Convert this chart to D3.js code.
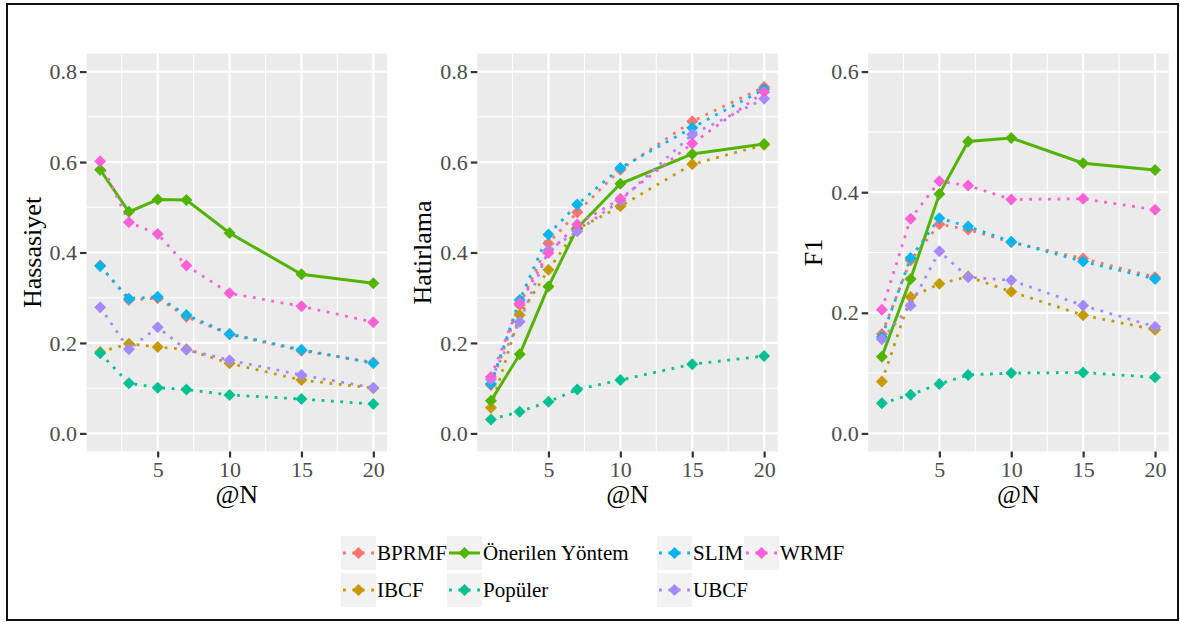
<!DOCTYPE html>
<html>
<head>
<meta charset="utf-8">
<script src="https://cdn.jsdelivr.net/npm/d3@7"></script>
<style>
  body { margin: 0; background: #ffffff; }
  svg text { font-family: "Liberation Serif", "Times New Roman", serif; }
</style>
</head>
<body>
<svg id="chart" width="1180" height="622"></svg>
<script>
// x values (@N)
var n_values = [1, 3, 5, 7, 10, 15, 20];
var x_ticks = [5, 10, 15, 20];

var methods = ["BPRMF", "IBCF", "Önerilen Yöntem", "Popüler", "SLIM", "UBCF", "WRMF"];
var method_colors = ["#F8766D", "#C49A00", "#53B400", "#00C094", "#00B6EB", "#A58AFF", "#FB61D7"];

// One row per method, same order as `methods`.
var hassasiyet = [
  [0.371, 0.295, 0.299, 0.258, 0.219, 0.183, 0.157],
  [0.180, 0.198, 0.191, 0.186, 0.155, 0.118, 0.100],
  [0.583, 0.490, 0.517, 0.516, 0.443, 0.352, 0.332],
  [0.177, 0.111, 0.101, 0.097, 0.085, 0.076, 0.065],
  [0.370, 0.298, 0.302, 0.262, 0.220, 0.185, 0.155],
  [0.279, 0.186, 0.235, 0.185, 0.162, 0.129, 0.101],
  [0.602, 0.467, 0.441, 0.371, 0.310, 0.281, 0.246]
];

var hatirlama = [
  [0.107, 0.284, 0.420, 0.489, 0.583, 0.690, 0.766],
  [0.057, 0.262, 0.362, 0.452, 0.502, 0.595, 0.638],
  [0.072, 0.175, 0.325, 0.454, 0.552, 0.618, 0.640],
  [0.031, 0.048, 0.070, 0.097, 0.118, 0.153, 0.171],
  [0.110, 0.295, 0.440, 0.506, 0.587, 0.676, 0.761],
  [0.120, 0.247, 0.405, 0.447, 0.515, 0.661, 0.740],
  [0.125, 0.288, 0.399, 0.462, 0.519, 0.641, 0.755]
];

var f1 = [
  [0.165, 0.287, 0.347, 0.338, 0.317, 0.290, 0.259],
  [0.086, 0.226, 0.248, 0.260, 0.235, 0.196, 0.172],
  [0.127, 0.256, 0.397, 0.484, 0.490, 0.448, 0.437],
  [0.050, 0.064, 0.082, 0.097, 0.100, 0.101, 0.093],
  [0.160, 0.291, 0.357, 0.343, 0.318, 0.285, 0.256],
  [0.156, 0.212, 0.302, 0.259, 0.254, 0.212, 0.177],
  [0.205, 0.356, 0.418, 0.411, 0.388, 0.389, 0.371]
];

var panels = [
  { title: "Hassasiyet", data: hassasiyet, y_max: 0.8, y_ticks: [0, 0.2, 0.4, 0.6, 0.8], left: 86.5 },
  { title: "Hatirlama",  data: hatirlama,  y_max: 0.8, y_ticks: [0, 0.2, 0.4, 0.6, 0.8], left: 477.3 },
  { title: "F1",         data: f1,         y_max: 0.6, y_ticks: [0, 0.2, 0.4, 0.6],      left: 868.2 }
];

var PANEL_W = 300.5;
var PANEL_TOP = 53.5;
var PANEL_BOTTOM = 451.5;
var SOLID_METHOD = "Önerilen Yöntem";

var svg = d3.select("#chart");

// outer frame
svg.append("rect")
  .attr("x", 7).attr("y", 4)
  .attr("width", 1171).attr("height", 616)
  .attr("fill", "none")
  .attr("stroke", "#111")
  .attr("stroke-width", 2);

function diamond_path(r) {
  return "M0," + (-r) + "L" + r + ",0L0," + r + "L" + (-r) + ",0Z";
}

function method_dash(name) {
  return name === SOLID_METHOD ? null : "2.8,6.6";
}

function draw_panel(p) {
  var x = d3.scaleLinear()
    .domain([0.05, 20.95])
    .range([p.left, p.left + PANEL_W]);

  var pad = p.y_max * 0.05;
  var y = d3.scaleLinear()
    .domain([-pad, p.y_max + pad])
    .range([PANEL_BOTTOM, PANEL_TOP]);

  var g = svg.append("g");

  g.append("rect")
    .attr("x", x.range()[0]).attr("y", PANEL_TOP)
    .attr("width", PANEL_W).attr("height", PANEL_BOTTOM - PANEL_TOP)
    .attr("fill", "#EBEBEB");

  // minor grid
  var y_minor = d3.range(p.y_ticks.length - 1).map(function (i) {
    return (p.y_ticks[i] + p.y_ticks[i + 1]) / 2;
  });
  var x_minor = [2.5, 7.5, 12.5, 17.5];

  g.selectAll(".ymin").data(y_minor).enter().append("line")
    .attr("x1", x.range()[0]).attr("x2", x.range()[1])
    .attr("y1", y).attr("y2", y)
    .attr("stroke", "#fff").attr("stroke-width", 1.1);

  g.selectAll(".xmin").data(x_minor).enter().append("line")
    .attr("y1", PANEL_TOP).attr("y2", PANEL_BOTTOM)
    .attr("x1", x).attr("x2", x)
    .attr("stroke", "#fff").attr("stroke-width", 1.1);

  // major grid
  g.selectAll(".ymaj").data(p.y_ticks).enter().append("line")
    .attr("x1", x.range()[0]).attr("x2", x.range()[1])
    .attr("y1", y).attr("y2", y)
    .attr("stroke", "#fff").attr("stroke-width", 2.2);

  g.selectAll(".xmaj").data(x_ticks).enter().append("line")
    .attr("y1", PANEL_TOP).attr("y2", PANEL_BOTTOM)
    .attr("x1", x).attr("x2", x)
    .attr("stroke", "#fff").attr("stroke-width", 2.2);

  // axes
  var y_axis = d3.axisLeft(y)
    .tickValues(p.y_ticks)
    .tickFormat(d3.format(".1f"))
    .tickSize(6.5)
    .tickPadding(3);

  var x_axis = d3.axisBottom(x)
    .tickValues(x_ticks)
    .tickSize(6)
    .tickPadding(4);

  var ya = g.append("g")
    .attr("transform", "translate(" + x.range()[0] + ",0)")
    .call(y_axis);

  var xa = g.append("g")
    .attr("transform", "translate(0," + PANEL_BOTTOM + ")")
    .call(x_axis);

  [ya, xa].forEach(function (ax) {
    ax.select(".domain").remove();
    ax.selectAll(".tick line").attr("stroke", "#333").attr("stroke-width", 2.2);
    ax.selectAll(".tick text")
      .attr("fill", "#4D4D4D")
      .style("font-size", "22px")
      .style("font-family", "'Liberation Serif', serif");
  });

  // titles
  g.append("text")
    .attr("transform", "translate(" + (x.range()[0] - 55) + "," + ((PANEL_TOP + PANEL_BOTTOM) / 2) + ") rotate(-90)")
    .attr("text-anchor", "middle")
    .attr("dy", "0.35em")
    .style("font-size", "26px")
    .attr("fill", "#000")
    .text(p.title);

  g.append("text")
    .attr("x", (x.range()[0] + x.range()[1]) / 2)
    .attr("y", 503)
    .attr("text-anchor", "middle")
    .style("font-size", "26px")
    .attr("fill", "#000")
    .text("@N");

  var line = d3.line()
    .x(function (d, i) { return x(n_values[i]); })
    .y(function (d) { return y(d); });

  // all lines first, then the points on top (like ggplot layers)
  p.data.forEach(function (vals, m) {
    g.append("path")
      .datum(vals)
      .attr("d", line)
      .attr("fill", "none")
      .attr("stroke", method_colors[m])
      .attr("stroke-width", methods[m] === SOLID_METHOD ? 3 : 2.8)
      .attr("stroke-dasharray", method_dash(methods[m]));
  });

  p.data.forEach(function (vals, m) {
    g.selectAll(null).data(vals).enter().append("path")
      .attr("d", diamond_path(6))
      .attr("transform", function (d, i) {
        return "translate(" + x(n_values[i]) + "," + y(d) + ")";
      })
      .attr("fill", method_colors[m]);
  });
}

panels.forEach(draw_panel);

// Legend: 2 rows, filled column by column.
var legend_cols = [341, 447, 657, 744];
var legend_rows = [536, 573];
var KEY_W = 35;
var KEY_H = 34;

methods.forEach(function (name, i) {
  var kx = legend_cols[Math.floor(i / 2)];
  var ky = legend_rows[i % 2];
  var lg = svg.append("g").attr("transform", "translate(" + kx + "," + ky + ")");

  lg.append("rect")
    .attr("width", KEY_W).attr("height", KEY_H)
    .attr("fill", "#F2F2F2");

  lg.append("line")
    .attr("x1", 2).attr("x2", KEY_W - 2)
    .attr("y1", KEY_H / 2).attr("y2", KEY_H / 2)
    .attr("stroke", method_colors[i])
    .attr("stroke-width", name === SOLID_METHOD ? 3 : 2.8)
    .attr("stroke-dasharray", method_dash(name));

  lg.append("path")
    .attr("d", diamond_path(6))
    .attr("transform", "translate(" + (KEY_W / 2) + "," + (KEY_H / 2) + ")")
    .attr("fill", method_colors[i]);

  lg.append("text")
    .attr("x", KEY_W + 1)
    .attr("y", KEY_H / 2)
    .attr("dy", "0.35em")
    .style("font-size", "21px")
    .attr("fill", "#000")
    .text(name);
});
</script>
</body>
</html>
